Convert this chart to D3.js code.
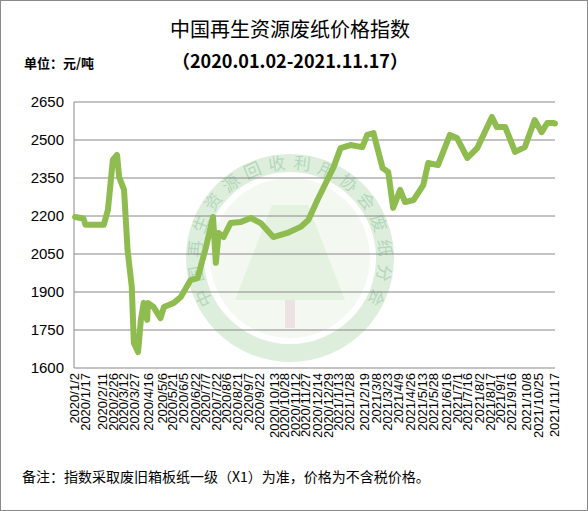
<!DOCTYPE html>
<html><head><meta charset="utf-8">
<script src="https://cdn.jsdelivr.net/npm/d3@7"></script>
<style>body{margin:0;background:#fff}</style>
</head><body>
<script>
var dates = ["2020-01-02","2020-01-14","2020-01-17","2020-02-12","2020-02-18","2020-02-25","2020-03-02","2020-03-05","2020-03-12","2020-03-17","2020-03-23","2020-03-26","2020-04-01","2020-04-05","2020-04-09","2020-04-14","2020-04-15","2020-04-23","2020-05-03","2020-05-08","2020-05-22","2020-06-01","2020-06-15","2020-06-25","2020-07-07","2020-07-17","2020-07-21","2020-07-25","2020-08-01","2020-08-11","2020-08-25","2020-09-09","2020-09-23","2020-10-11","2020-10-31","2020-11-19","2020-11-30","2020-12-13","2020-12-27","2021-01-05","2021-01-15","2021-01-29","2021-02-15","2021-02-22","2021-03-03","2021-03-16","2021-03-24","2021-03-31","2021-04-10","2021-04-17","2021-04-29","2021-05-13","2021-05-20","2021-06-03","2021-06-20","2021-06-30","2021-07-15","2021-07-29","2021-08-19","2021-08-26","2021-09-07","2021-09-21","2021-10-05","2021-10-19","2021-10-29","2021-11-06","2021-11-14","2021-11-17"];
var values = [2196,2190,2165,2165,2224,2421,2441,2354,2303,2066,1920,1699,1663,1790,1857,1790,1857,1841,1797,1841,1857,1880,1947,1955,2078,2196,2015,2133,2117,2172,2176,2192,2172,2117,2133,2157,2184,2263,2342,2393,2468,2480,2472,2520,2527,2389,2374,2232,2303,2255,2263,2322,2409,2401,2520,2508,2429,2468,2591,2551,2551,2453,2472,2579,2531,2567,2567,2565];
var yTicks = [1600,1750,1900,2050,2200,2350,2500,2650];
var xLabels = ["2020/1/2","2020/1/17","2020/2/11","2020/2/26","2020/3/12","2020/3/27","2020/4/16","2020/5/6","2020/5/21","2020/6/5","2020/6/22","2020/7/7","2020/7/22","2020/8/6","2020/8/21","2020/9/7","2020/9/22","2020/10/13","2020/10/28","2020/11/12","2020/11/27","2020/12/14","2020/12/29","2021/1/13","2021/1/28","2021/2/19","2021/3/8","2021/3/23","2021/4/9","2021/4/26","2021/5/13","2021/5/28","2021/6/16","2021/7/1","2021/7/16","2021/8/2","2021/8/17","2021/9/1","2021/9/16","2021/10/8","2021/10/25","2021/11/17"];

var W = 588, H = 511;
var svg = d3.select("body").append("svg").attr("width", W).attr("height", H)
  .style("font-family", "'Liberation Sans', Arial, sans-serif");
svg.append("rect").attr("x", 0.5).attr("y", 0.5).attr("width", W-1).attr("height", H-1)
  .attr("fill", "#fff").attr("stroke", "#8a8a8a");

var parse = d3.timeParse("%Y-%m-%d"), parse2 = d3.timeParse("%Y/%m/%d");
var x = d3.scaleTime().domain([parse(dates[0]), parse(dates[dates.length-1])]).range([75, 555]);
var y = d3.scaleLinear().domain([1600, 2650]).range([368, 102]);

// watermark
var wm = svg.append("g").attr("opacity", 0.45);
wm.append("circle").attr("cx", 290).attr("cy", 258).attr("r", 95).attr("fill", "none").attr("stroke", "#b5dcb3").attr("stroke-width", 18);
wm.append("circle").attr("cx", 290).attr("cy", 258).attr("r", 80).attr("fill", "#e6f3e2");
wm.append("path").attr("d", "M272,205 L308,205 L345,300 L235,300 Z").attr("fill", "#c9e3bd");
wm.append("rect").attr("x", 285).attr("y", 300).attr("width", 10).attr("height", 28).attr("fill", "#d9bfbf");
var wmText = "中国再生资源回收利用协会废纸分会".split("");
wmText.forEach(function(c, i) {
  var ang = 155 + i * 15.3, a = ang * Math.PI / 180;
  var cx = 290 + 95 * Math.cos(a), cy = 258 + 95 * Math.sin(a);
  wm.append("text").attr("x", cx).attr("y", cy)
    .attr("text-anchor", "middle").attr("dy", "0.35em").attr("font-size", 17).attr("fill", "#5aa66a")
    .attr("font-family", "'Noto Sans CJK SC'")
    .attr("transform", "rotate(" + (ang + 90) + "," + cx + "," + cy + ")")
    .text(c);
});

// grid
svg.selectAll(".grid").data(yTicks).enter().append("line")
  .attr("x1", 74).attr("x2", 555).attr("y1", function(d){return y(d)}).attr("y2", function(d){return y(d)})
  .attr("stroke", "#888").attr("stroke-width", 1);
svg.append("line").attr("x1", 74).attr("x2", 74).attr("y1", 102).attr("y2", 368).attr("stroke", "#888");
svg.selectAll(".yl").data(yTicks).enter().append("text")
  .attr("x", 64).attr("y", function(d){return y(d)}).attr("dy", "0.35em").attr("text-anchor", "end")
  .attr("font-size", 15).text(function(d){return d});

// x labels
svg.selectAll(".xl").data(xLabels).enter().append("text")
  .attr("transform", function(d){return "translate(" + (x(parse2(d)) + 4) + ",373) rotate(-90)"})
  .attr("text-anchor", "end").attr("font-size", 13).text(function(d){return d});

// line
var line = d3.line().x(function(d){return x(parse(d[0]))}).y(function(d){return y(d[1])});
svg.append("path").datum(d3.zip(dates, values)).attr("d", line)
  .attr("fill", "none").attr("stroke", "#8fbc4f").attr("stroke-width", 6)
  .attr("stroke-linejoin", "round").attr("stroke-linecap", "round");

// titles
svg.append("text").attr("x", 290).attr("y", 37).attr("text-anchor", "middle")
  .attr("font-family", "'Noto Sans CJK SC'").attr("font-size", 20).text("中国再生资源废纸价格指数");
svg.append("text").attr("x", 290).attr("y", 68).attr("text-anchor", "middle")
  .attr("font-family", "'Noto Sans CJK SC'").attr("font-weight", "bold").attr("font-size", 18).text("（2020.01.02-2021.11.17）");
svg.append("text").attr("x", 24).attr("y", 68)
  .attr("font-family", "'Noto Sans CJK SC'").attr("font-weight", "bold").attr("font-size", 13).text("单位：元/吨");
svg.append("text").attr("x", 22).attr("y", 482)
  .attr("font-family", "'Noto Sans CJK SC'").attr("font-size", 14).text("备注：指数采取废旧箱板纸一级（X1）为准，价格为不含税价格。");
</script>
</body></html>
